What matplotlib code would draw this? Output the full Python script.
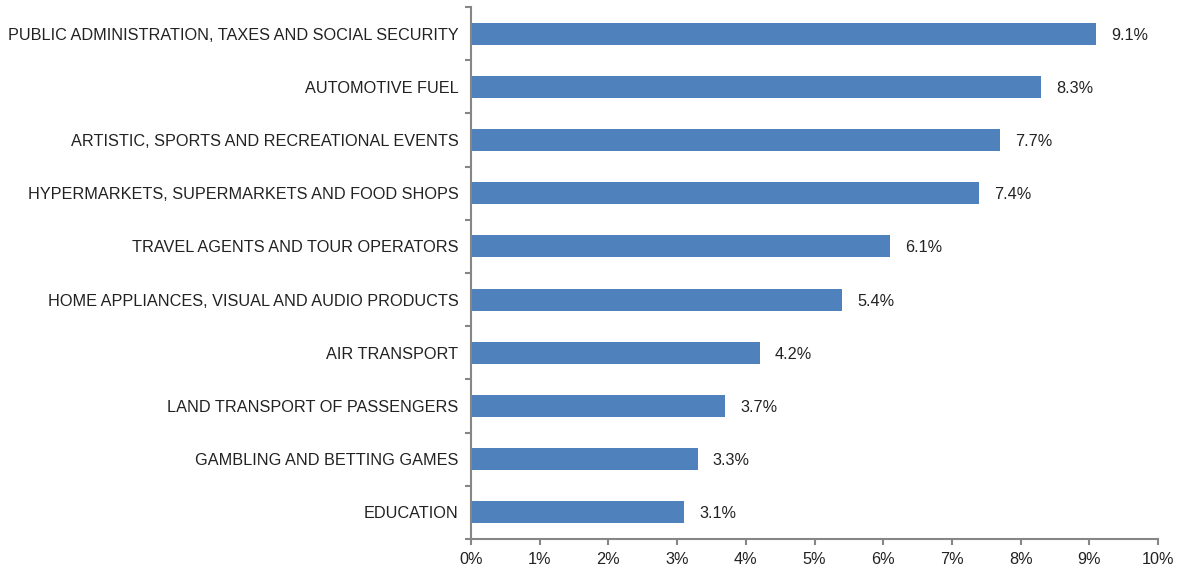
import matplotlib
matplotlib.use("Agg")
import matplotlib.pyplot as plt
from matplotlib.ticker import FixedLocator

categories = [
    "PUBLIC ADMINISTRATION, TAXES AND SOCIAL SECURITY",
    "AUTOMOTIVE FUEL",
    "ARTISTIC, SPORTS AND RECREATIONAL EVENTS",
    "HYPERMARKETS, SUPERMARKETS AND FOOD SHOPS",
    "TRAVEL AGENTS AND TOUR OPERATORS",
    "HOME APPLIANCES, VISUAL AND AUDIO PRODUCTS",
    "AIR TRANSPORT",
    "LAND TRANSPORT OF PASSENGERS",
    "GAMBLING AND BETTING GAMES",
    "EDUCATION",
]
values = [9.1, 8.3, 7.7, 7.4, 6.1, 5.4, 4.2, 3.7, 3.3, 3.1]
xticks = [0, 1, 2, 3, 4, 5, 6, 7, 8, 9, 10]
xticklabels = [f"{t}%" for t in xticks]

plt.rcParams['font.family'] = ['Liberation Sans', 'DejaVu Sans']

fig = plt.figure(figsize=(11.84, 5.67), dpi=100)
ax = fig.add_axes([471/1184, 1 - 539/567, (1158 - 471)/1184, (539 - 7)/567])

FS = 11.7
TC = "#222222"
n = len(categories)
ypos = list(range(n))[::-1]
ax.barh(ypos, values, height=0.41, color="#4F81BD", zorder=2)
for y, v in zip(ypos, values):
    ax.text(v + 0.22, y - 0.03, f"{v:.1f}%", va="center", ha="left", fontsize=FS, color=TC)

ax.set_xlim(0, 10)
ax.set_ylim(-0.5, n - 0.5)
ax.set_xticks(xticks)
ax.set_xticklabels(xticklabels, fontsize=FS, color=TC)
ax.set_yticks(ypos)
ax.set_yticklabels(categories, fontsize=FS, color=TC)
ax.yaxis.set_minor_locator(FixedLocator([i - 0.5 for i in range(n + 1)]))
ax.tick_params(axis="y", which="major", length=0, pad=9)
ax.tick_params(axis="y", which="minor", length=4, width=1.5, color="#868686", direction="out")
ax.tick_params(axis="x", length=4, width=1.5, color="#868686", direction="out", pad=5)

for s in ["top", "right"]:
    ax.spines[s].set_visible(False)
for s in ["left", "bottom"]:
    ax.spines[s].set_color("#868686")
    ax.spines[s].set_linewidth(1.5)

fig.savefig("out.png", dpi=100)
